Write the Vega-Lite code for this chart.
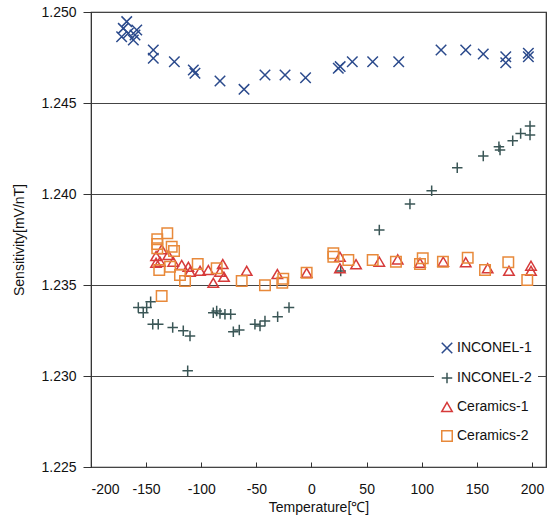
{
  "$schema": "https://vega.github.io/schema/vega-lite/v6.json",
  "autosize": "none",
  "width": 455,
  "height": 455,
  "padding": {"left": 91, "top": 12, "right": 4, "bottom": 54},
  "background": "white",
  "config": {
    "font": "Liberation Sans",
    "view": {"stroke": "#222", "strokeWidth": 1.2}
  },
  "data": {
    "values": [
      {"series": "INCONEL-1", "temp": -167.6, "sens": 1.24947},
      {"series": "INCONEL-1", "temp": -170.7, "sens": 1.2491},
      {"series": "INCONEL-1", "temp": -158.5, "sens": 1.24901},
      {"series": "INCONEL-1", "temp": -172.2, "sens": 1.24864},
      {"series": "INCONEL-1", "temp": -161.6, "sens": 1.24846},
      {"series": "INCONEL-1", "temp": -160.1, "sens": 1.24874},
      {"series": "INCONEL-1", "temp": -166.2, "sens": 1.24883},
      {"series": "INCONEL-1", "temp": -143.5, "sens": 1.24791},
      {"series": "INCONEL-1", "temp": -143.5, "sens": 1.24746},
      {"series": "INCONEL-1", "temp": -124.4, "sens": 1.24727},
      {"series": "INCONEL-1", "temp": -107.2, "sens": 1.24681},
      {"series": "INCONEL-1", "temp": -105.7, "sens": 1.24663},
      {"series": "INCONEL-1", "temp": -83, "sens": 1.24621},
      {"series": "INCONEL-1", "temp": -61.2, "sens": 1.24575},
      {"series": "INCONEL-1", "temp": -42.2, "sens": 1.24654},
      {"series": "INCONEL-1", "temp": -24, "sens": 1.24654},
      {"series": "INCONEL-1", "temp": -5.4, "sens": 1.24639},
      {"series": "INCONEL-1", "temp": 24.3, "sens": 1.24691},
      {"series": "INCONEL-1", "temp": 26, "sens": 1.247},
      {"series": "INCONEL-1", "temp": 37, "sens": 1.24727},
      {"series": "INCONEL-1", "temp": 55.5, "sens": 1.24727},
      {"series": "INCONEL-1", "temp": 79.1, "sens": 1.24727},
      {"series": "INCONEL-1", "temp": 117.5, "sens": 1.24791},
      {"series": "INCONEL-1", "temp": 139.9, "sens": 1.24791},
      {"series": "INCONEL-1", "temp": 155.8, "sens": 1.24769},
      {"series": "INCONEL-1", "temp": 176.2, "sens": 1.24754},
      {"series": "INCONEL-1", "temp": 176.2, "sens": 1.24721},
      {"series": "INCONEL-1", "temp": 196.7, "sens": 1.24773},
      {"series": "INCONEL-1", "temp": 196.7, "sens": 1.24754},

      {"series": "INCONEL-2", "temp": -157.1, "sens": 1.23377},
      {"series": "INCONEL-2", "temp": -152.6, "sens": 1.23348},
      {"series": "INCONEL-2", "temp": -149.5, "sens": 1.23377},
      {"series": "INCONEL-2", "temp": -145.9, "sens": 1.23408},
      {"series": "INCONEL-2", "temp": -144, "sens": 1.23284},
      {"series": "INCONEL-2", "temp": -139, "sens": 1.23284},
      {"series": "INCONEL-2", "temp": -125.9, "sens": 1.23267},
      {"series": "INCONEL-2", "temp": -116.3, "sens": 1.23249},
      {"series": "INCONEL-2", "temp": -110.2, "sens": 1.2322},
      {"series": "INCONEL-2", "temp": -112.3, "sens": 1.23029},
      {"series": "INCONEL-2", "temp": -89.1, "sens": 1.23348},
      {"series": "INCONEL-2", "temp": -86, "sens": 1.23357},
      {"series": "INCONEL-2", "temp": -83, "sens": 1.23344},
      {"series": "INCONEL-2", "temp": -78.5, "sens": 1.23339},
      {"series": "INCONEL-2", "temp": -73.3, "sens": 1.23339},
      {"series": "INCONEL-2", "temp": -70.9, "sens": 1.23243},
      {"series": "INCONEL-2", "temp": -65.5, "sens": 1.23253},
      {"series": "INCONEL-2", "temp": -51.3, "sens": 1.23284},
      {"series": "INCONEL-2", "temp": -46.7, "sens": 1.23275},
      {"series": "INCONEL-2", "temp": -42.2, "sens": 1.23302},
      {"series": "INCONEL-2", "temp": -30.7, "sens": 1.23326},
      {"series": "INCONEL-2", "temp": -20.4, "sens": 1.23377},
      {"series": "INCONEL-2", "temp": 26.5, "sens": 1.23577},
      {"series": "INCONEL-2", "temp": 61.5, "sens": 1.23802},
      {"series": "INCONEL-2", "temp": 89.3, "sens": 1.23945},
      {"series": "INCONEL-2", "temp": 109, "sens": 1.24018},
      {"series": "INCONEL-2", "temp": 132.2, "sens": 1.24144},
      {"series": "INCONEL-2", "temp": 155.8, "sens": 1.24209},
      {"series": "INCONEL-2", "temp": 170, "sens": 1.2426},
      {"series": "INCONEL-2", "temp": 171, "sens": 1.24242},
      {"series": "INCONEL-2", "temp": 182.5, "sens": 1.24293},
      {"series": "INCONEL-2", "temp": 189.7, "sens": 1.24333},
      {"series": "INCONEL-2", "temp": 198.2, "sens": 1.24374},
      {"series": "INCONEL-2", "temp": 198.2, "sens": 1.24324},

      {"series": "Ceramics-1", "temp": -135.9, "sens": 1.23696},
      {"series": "Ceramics-1", "temp": -129.9, "sens": 1.23665},
      {"series": "Ceramics-1", "temp": -141, "sens": 1.23659},
      {"series": "Ceramics-1", "temp": -137.4, "sens": 1.23628},
      {"series": "Ceramics-1", "temp": -125.4, "sens": 1.23628},
      {"series": "Ceramics-1", "temp": -141, "sens": 1.23622},
      {"series": "Ceramics-1", "temp": -117.7, "sens": 1.2361},
      {"series": "Ceramics-1", "temp": -111.7, "sens": 1.236},
      {"series": "Ceramics-1", "temp": -110.2, "sens": 1.23573},
      {"series": "Ceramics-1", "temp": -101.1, "sens": 1.23578},
      {"series": "Ceramics-1", "temp": -93.6, "sens": 1.23582},
      {"series": "Ceramics-1", "temp": -80.5, "sens": 1.23615},
      {"series": "Ceramics-1", "temp": -83, "sens": 1.23573},
      {"series": "Ceramics-1", "temp": -79.4, "sens": 1.23545},
      {"series": "Ceramics-1", "temp": -89.1, "sens": 1.23512},
      {"series": "Ceramics-1", "temp": -58.8, "sens": 1.23578},
      {"series": "Ceramics-1", "temp": -31, "sens": 1.2356},
      {"series": "Ceramics-1", "temp": -4.4, "sens": 1.23567},
      {"series": "Ceramics-1", "temp": 25.8, "sens": 1.23655},
      {"series": "Ceramics-1", "temp": 25.8, "sens": 1.23592},
      {"series": "Ceramics-1", "temp": 40.4, "sens": 1.23614},
      {"series": "Ceramics-1", "temp": 61.5, "sens": 1.23628},
      {"series": "Ceramics-1", "temp": 78.2, "sens": 1.23641},
      {"series": "Ceramics-1", "temp": 98.4, "sens": 1.23622},
      {"series": "Ceramics-1", "temp": 119.5, "sens": 1.23628},
      {"series": "Ceramics-1", "temp": 139.9, "sens": 1.23625},
      {"series": "Ceramics-1", "temp": 159.8, "sens": 1.23592},
      {"series": "Ceramics-1", "temp": 179.1, "sens": 1.23578},
      {"series": "Ceramics-1", "temp": 199.1, "sens": 1.23606},
      {"series": "Ceramics-1", "temp": 199.1, "sens": 1.23578},

      {"series": "Ceramics-2", "temp": -130.8, "sens": 1.23784},
      {"series": "Ceramics-2", "temp": -139.9, "sens": 1.23751},
      {"series": "Ceramics-2", "temp": -139.9, "sens": 1.23725},
      {"series": "Ceramics-2", "temp": -139.9, "sens": 1.23702},
      {"series": "Ceramics-2", "temp": -126.8, "sens": 1.2371},
      {"series": "Ceramics-2", "temp": -124.7, "sens": 1.23687},
      {"series": "Ceramics-2", "temp": -138.1, "sens": 1.23582},
      {"series": "Ceramics-2", "temp": -128.3, "sens": 1.236},
      {"series": "Ceramics-2", "temp": -119.3, "sens": 1.23555},
      {"series": "Ceramics-2", "temp": -114.7, "sens": 1.23522},
      {"series": "Ceramics-2", "temp": -103.2, "sens": 1.23615},
      {"series": "Ceramics-2", "temp": -135.9, "sens": 1.23439},
      {"series": "Ceramics-2", "temp": -86, "sens": 1.23592},
      {"series": "Ceramics-2", "temp": -63.3, "sens": 1.23522},
      {"series": "Ceramics-2", "temp": -42.2, "sens": 1.23498},
      {"series": "Ceramics-2", "temp": -25.6, "sens": 1.23534},
      {"series": "Ceramics-2", "temp": -26.5, "sens": 1.23512},
      {"series": "Ceramics-2", "temp": -4.4, "sens": 1.23567},
      {"series": "Ceramics-2", "temp": 19.8, "sens": 1.23674},
      {"series": "Ceramics-2", "temp": 19.8, "sens": 1.23655},
      {"series": "Ceramics-2", "temp": 33.4, "sens": 1.23637},
      {"series": "Ceramics-2", "temp": 55.5, "sens": 1.23637},
      {"series": "Ceramics-2", "temp": 76.6, "sens": 1.23628},
      {"series": "Ceramics-2", "temp": 100.9, "sens": 1.23647},
      {"series": "Ceramics-2", "temp": 98.4, "sens": 1.23615},
      {"series": "Ceramics-2", "temp": 119.2, "sens": 1.23628},
      {"series": "Ceramics-2", "temp": 141.7, "sens": 1.2365},
      {"series": "Ceramics-2", "temp": 157.4, "sens": 1.23582},
      {"series": "Ceramics-2", "temp": 178.5, "sens": 1.23625},
      {"series": "Ceramics-2", "temp": 195.7, "sens": 1.23527}
    ]
  },
  "mark": {"type": "point", "filled": false, "strokeWidth": 1.5, "opacity": 1},
  "encoding": {
    "x": {
      "field": "temp",
      "type": "quantitative",
      "title": "Temperature[℃]",
      "scale": {"domain": [-200, 212.7], "nice": false, "zero": false},
      "axis": {
        "values": [-200, -150, -100, -50, 0, 50, 100, 150, 200],
        "labelExpr": "replace(datum.label, '−', '-')",
        "grid": false,
        "domain": false,
        "tickSize": -5,
        "tickColor": "#333",
        "labelPadding": 20,
        "labelFontSize": 14,
        "labelColor": "#111",
        "titleFontSize": 14,
        "titleFontWeight": "normal",
        "titleColor": "#111",
        "titlePadding": 4
      }
    },
    "y": {
      "field": "sens",
      "type": "quantitative",
      "title": "Sensitivity[mV/nT]",
      "scale": {"domain": [1.225, 1.25], "nice": false, "zero": false},
      "axis": {
        "values": [1.225, 1.23, 1.235, 1.24, 1.245, 1.25],
        "format": ".3f",
        "grid": true,
        "gridColor": "#444",
        "gridWidth": 1,
        "domain": false,
        "tickSize": 8,
        "tickColor": "#333",
        "labelPadding": 7,
        "labelFontSize": 14,
        "labelColor": "#111",
        "titleFontSize": 14,
        "titleFontWeight": "normal",
        "titleColor": "#111",
        "titlePadding": 14
      }
    },
    "size": {
      "field": "series",
      "type": "nominal",
      "scale": {
        "domain": ["INCONEL-1", "INCONEL-2", "Ceramics-1", "Ceramics-2"],
        "range": [110, 110, 95, 60]
      },
      "legend": null
    },
    "color": {
      "field": "series",
      "type": "nominal",
      "scale": {
        "domain": ["INCONEL-1", "INCONEL-2", "Ceramics-1", "Ceramics-2"],
        "range": ["#2b4a8c", "#3a5656", "#d63a3a", "#e8893a"]
      },
      "legend": {
        "title": null,
        "orient": "none",
        "legendX": 343,
        "legendY": 323,
        "padding": 6,
        "fillColor": "white",
        "labelFontSize": 14,
        "labelColor": "#111",
        "labelOffset": 3,
        "rowPadding": 12,
        "symbolSize": 70,
        "symbolStrokeWidth": 1.5
      }
    },
    "shape": {
      "field": "series",
      "type": "nominal",
      "scale": {
        "domain": ["INCONEL-1", "INCONEL-2", "Ceramics-1", "Ceramics-2"],
        "range": ["M-1,-1L1,1M-1,1L1,-1", "M-1,0L1,0M0,-1L0,1", "triangle-up", "square"]
      },
      "legend": null
    }
  }
}
